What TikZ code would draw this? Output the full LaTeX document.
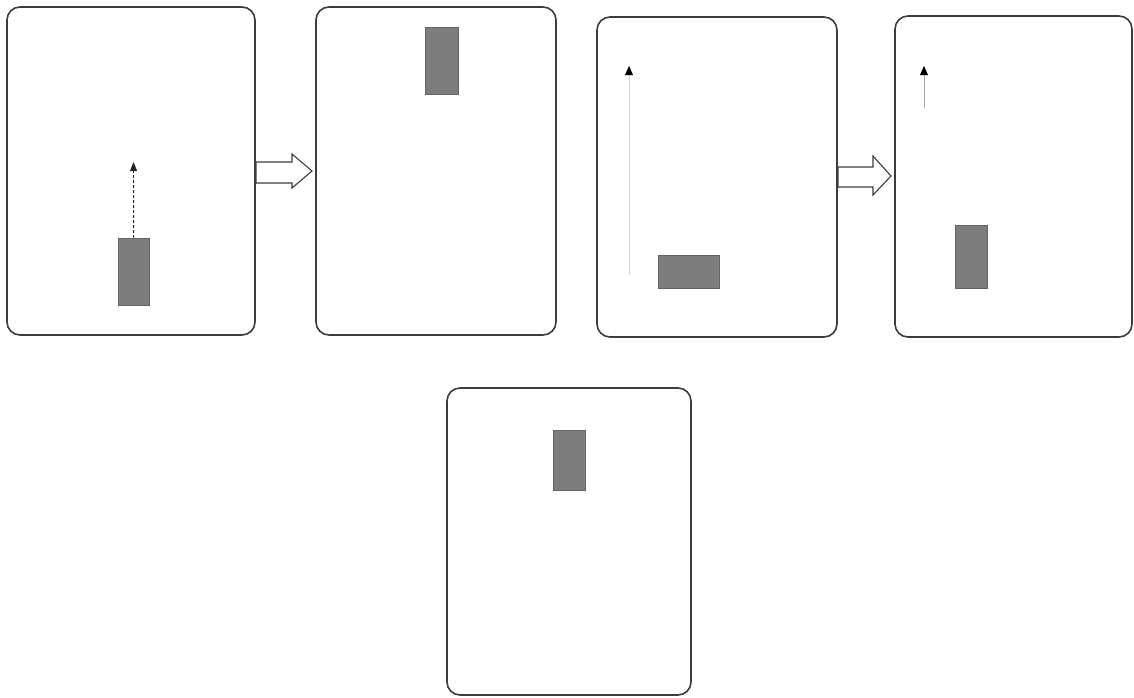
\documentclass[tikz,border=0pt]{standalone}
\usetikzlibrary{arrows.meta}
\definecolor{frame}{RGB}{60,60,60}
\definecolor{blockfill}{RGB}{125,125,125}
\tikzset{
  panel/.style={draw=frame, line width=1.6pt, rounded corners=13pt, fill=white},
  block/.style={fill=blockfill, draw=blockfill!80!black, line width=0.4pt},
  movearrow/.style={-{Triangle[length=9pt,width=7pt]}, line width=0.9pt},
  hollow/.style={draw=frame, line width=1.1pt, fill=white, line join=miter}
}
\begin{document}
\begin{tikzpicture}[x=1pt,y=-1pt]
\useasboundingbox (0,0) rectangle (1134,697);
% panels
\draw[panel] (7,7) rectangle (255,335);
\draw[panel] (316,7) rectangle (556,335);
\draw[panel] (597,17) rectangle (837,337);
\draw[panel] (895,16) rectangle (1132,337);
\draw[panel] (447,388) rectangle (691,695);
% hollow block arrows
\draw[hollow] (256,162) -- (292,162) -- (292,154) -- (312,171) -- (292,188) -- (292,183) -- (256,183) -- cycle;
\draw[hollow] (838,167) -- (873,167) -- (873,156) -- (891,176) -- (873,195) -- (873,187) -- (838,187) -- cycle;
% blocks
\node[block, minimum width=31pt, minimum height=67pt, inner sep=0pt, anchor=north west] (b1) at (118,238) {};
\coordinate (t1) at (133.5,162);
\draw[movearrow, dashed, dash pattern=on 3pt off 2pt, draw=black!85] (b1.north) -- (t1);
\node[block, minimum width=33pt, minimum height=67pt, inner sep=0pt, anchor=north west] (b2) at (425,27) {};
\node[block, minimum width=61pt, minimum height=33pt, inner sep=0pt, anchor=north west] (b3) at (658,255) {};
\coordinate (s3) at (629,275);
\coordinate (t3) at (629,66);
\draw[-{Triangle[length=9pt,width=7pt]}, draw=black!18, line width=0.9pt] (s3) -- (t3);
\fill[black] (629,66) -- (625,75) -- (633,75) -- cycle;
\node[block, minimum width=32pt, minimum height=63pt, inner sep=0pt, anchor=north west] (b4) at (955,225) {};
\coordinate (s4) at (924,108);
\coordinate (t4) at (924,66);
\draw[-{Triangle[length=9pt,width=7pt]}, draw=black!35, line width=0.9pt] (s4) -- (t4);
\fill[black] (924,66) -- (920,75) -- (928,75) -- cycle;
\node[block, minimum width=32pt, minimum height=60pt, inner sep=0pt, anchor=north west] (b5) at (553,430) {};
\end{tikzpicture}
\end{document}
